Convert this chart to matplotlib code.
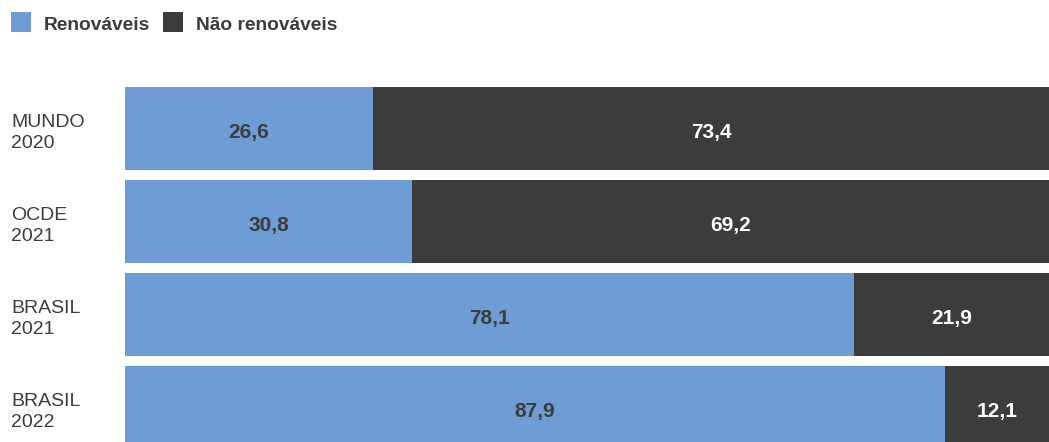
import matplotlib.pyplot as plt
import matplotlib.transforms as mtransforms
from matplotlib.patches import Rectangle

# data
categories = ["MUNDO\n2020", "OCDE\n2021", "BRASIL\n2021", "BRASIL\n2022"]
renovaveis = [26.6, 30.8, 78.1, 87.9]
nao_renovaveis = [73.4, 69.2, 21.9, 12.1]
series_names = ["Renováveis", "Não renováveis"]

blue = "#6d9dd4"
dark = "#3c3c3a"
textcol = "#3c3c3c"

W, H = 1049, 442
fig = plt.figure(figsize=(W / 100, H / 100), dpi=100)

# axes reaches a bit past the right and bottom edge, like the original crop
ax_left, ax_right = 125, 1058
ax_top, ax_bottom = 82, 454
ax = fig.add_axes([ax_left / W, (H - ax_bottom) / H,
                   (ax_right - ax_left) / W, (ax_bottom - ax_top) / H])
ax.set_xlim(0, 100)
ax.set_ylim(len(categories) - 0.5, -0.5)
ax.axis("off")

ypos = list(range(len(categories)))
ax.barh(ypos, renovaveis, height=0.9, color=blue, linewidth=0)
ax.barh(ypos, nao_renovaveis, left=renovaveis, height=0.9, color=dark, linewidth=0)

# visible right edge in data units
xmax_vis = (W - ax_left) / (ax_right - ax_left) * 100

for i in ypos:
    r = renovaveis[i]
    n = nao_renovaveis[i]
    ax.text(r / 2, i + 0.045, f"{r:.1f}".replace(".", ","), ha="center", va="center",
            fontsize=15, fontweight="bold", color=dark, family="Liberation Sans")
    right = min(r + n, xmax_vis)
    ax.text((r + right) / 2, i + 0.045, f"{n:.1f}".replace(".", ","), ha="center",
            va="center", fontsize=15, fontweight="bold", color="white",
            family="Liberation Sans")

trans = mtransforms.blended_transform_factory(fig.transFigure, ax.transData)
for i, cat in enumerate(categories):
    ax.text(11 / W, i + 0.05, cat, transform=trans, ha="left", va="center",
            fontsize=14, color=textcol, family="Liberation Sans", linespacing=1.3)

# legend drawn by hand
leg = [(11, 44, blue, series_names[0]), (163, 196, dark, series_names[1])]
for sx, tx, col, name in leg:
    fig.patches.append(Rectangle((sx / W, 1 - 32 / H), 20 / W, 20 / H,
                                 transform=fig.transFigure, color=col, linewidth=0))
    fig.text(tx / W, 1 - 25 / H, name, ha="left", va="center", fontsize=13.8,
             fontweight="bold", color=textcol, family="Liberation Sans")

fig.savefig("out.png", dpi=100)
